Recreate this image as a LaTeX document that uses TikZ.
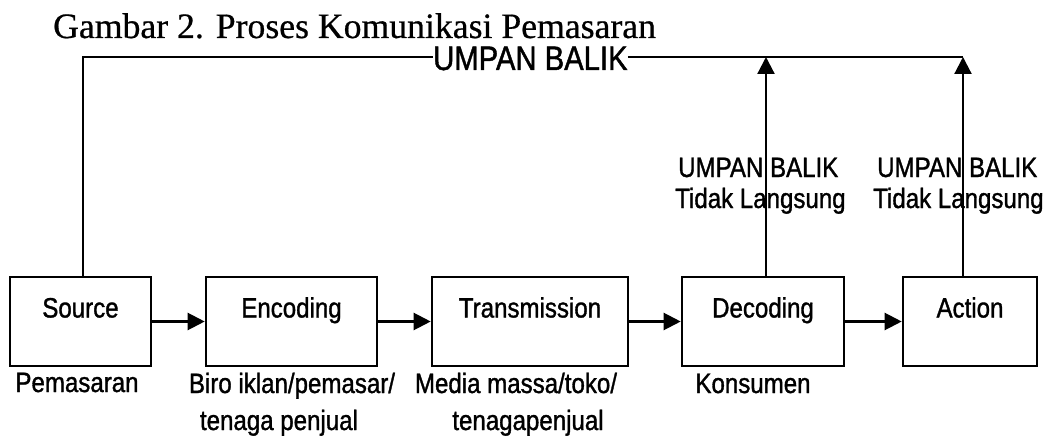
\documentclass[tikz,border=0pt]{standalone}
\usepackage{fontspec}
\setmainfont[FakeBold=0.6]{Liberation Serif}
\newfontfamily\narrowsans[FakeStretch=0.86,FakeBold=1.2]{Liberation Sans}
\usetikzlibrary{arrows.meta}
\begin{document}
\begin{tikzpicture}[x=1pt,y=-1pt,
  sansfont/.style={font=\narrowsans\fontsize{28}{28}\selectfont},
  box/.style={draw,line width=2.6pt,inner sep=0pt,minimum height=89pt,
    text height=20pt,text depth=28pt,sansfont},
  lbl/.style={inner sep=0pt,anchor=base,sansfont},
  lblw/.style={inner sep=0pt,anchor=base west,sansfont},
  conn/.style={line width=2.2pt},
  arr/.style={conn,-{Triangle[length=17pt,width=17pt]}}]
\useasboundingbox (0,0) rectangle (1050,436);
% title
\node[inner sep=0pt,anchor=base west,font=\fontsize{35.7}{36}\selectfont] (title) at (53,38) {Gambar 2. Proses Komunikasi Pemasaran};
% boxes
\node[box,minimum width=141pt] (source) at (80.5,321.5) {Source};
\node[box,minimum width=171pt] (encoding) at (291.5,321.5) {Encoding};
\node[box,minimum width=196pt] (transmission) at (530,321.5) {Transmission};
\node[box,minimum width=162pt] (decoding) at (763,321.5) {Decoding};
\node[box,minimum width=134pt] (action) at (970,321.5) {Action};
% forward arrows
\draw[arr] (source) -- (encoding);
\draw[arr] (encoding) -- (transmission);
\draw[arr] (transmission) -- (decoding);
\draw[arr] (decoding) -- (action);
% labels below
\node[lbl] (lsource) at (77,392) {Pemasaran};
\node[lbl] (lenc1) at (292,393) {Biro iklan/pemasar/};
\node[lbl] (lenc2) at (279,430) {tenaga penjual};
\node[lbl] (ltr1) at (516,393) {Media massa/toko/};
\node[lbl] (ltr2) at (528,430) {tenagapenjual};
\node[lbl] (ldec) at (753,393) {Konsumen};
% feedback
\coordinate (t0) at (83,57);
\coordinate (t1) at (766,57);
\coordinate (t2) at (963,57);
\node[inner sep=0pt,anchor=base west,font=\narrowsans\fontsize{34}{34}\selectfont] (fbtop) at (433,70) {UMPAN BALIK};
\draw[conn] (source.north -| t0) -- (t0) -- (fbtop.west |- t0);
\draw[conn] (fbtop.east |- t2) -- (t2);
\draw[arr] (decoding.north -| t1) -- (t1);
\draw[arr] (action.north -| t2) -- (t2);
\node[lblw] (fb1a) at (678,177) {UMPAN BALIK};
\node[lblw] (fb1b) at (675,208) {Tidak Langsung};
\node[lblw] (fb2a) at (877,177) {UMPAN BALIK};
\node[lblw] (fb2b) at (873,208) {Tidak Langsung};
\end{tikzpicture}
\end{document}
